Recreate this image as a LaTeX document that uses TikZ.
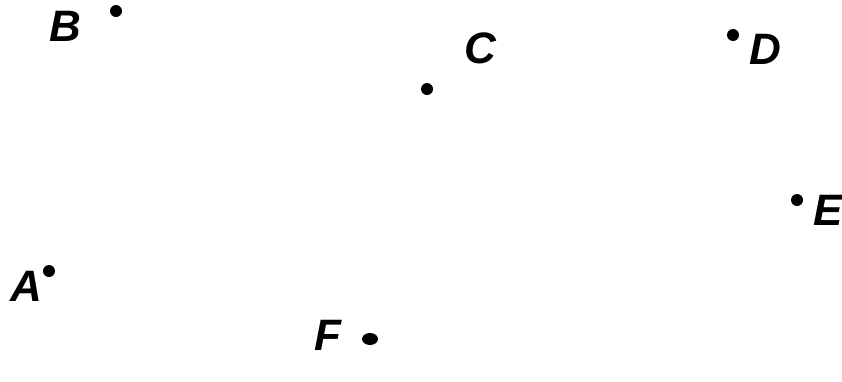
\documentclass[tikz,border=0pt]{standalone}
\usepackage{fontspec}
\newfontfamily\lblfont{Liberation Sans}
\usepackage{tikz}
\usetikzlibrary{positioning,shapes.geometric}

\begin{document}
\begin{tikzpicture}[
    x=1pt, y=-1pt,
    dot/.style={circle, fill=black, inner sep=0pt, minimum size=12pt},
    lbl/.style={inner sep=0pt, font=\lblfont\fontsize{44}{44}\selectfont\bfseries\itshape}
]
\useasboundingbox (0,0) rectangle (842,381);

\node[dot] (a) at (49,271) {};
\node[dot] (b) at (116,11) {};
\node[dot] (c) at (427,89) {};
\node[dot] (d) at (733,35) {};
\node[dot] (e) at (797,200) {};
\node[dot, ellipse, minimum width=16pt, minimum height=12pt] (f) at (370,339) {};

\node[lbl] (alab) at (26,286) {A};
\node[lbl] (blab) at (65,26) {B};
\node[lbl] (clab) at (480,48) {C};
\node[lbl] (dlab) at (765,49) {D};
\node[lbl] (elab) at (828,210) {E};
\node[lbl] (flab) at (328,335) {F};

\end{tikzpicture}
\end{document}
